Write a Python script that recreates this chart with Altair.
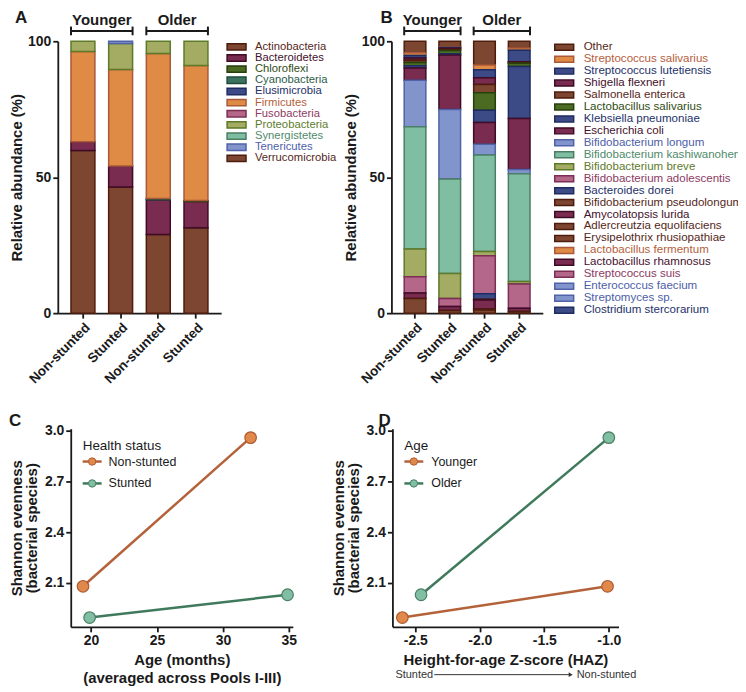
import altair as alt
import pandas as pd

FONT = "Liberation Sans"
INK = "#1a1a1a"

# colour families: (fill, edge, legend text)
TONES = {
    "brown":   ("#7d4630", "#4e1c0d", "#55271a"),
    "maroon":  ("#7a2b50", "#3f0b26", "#43102d"),
    "dkgreen": ("#4b6a22", "#27400c", "#2f4d14"),
    "dkteal":  ("#3b7260", "#1d4a3a", "#2b5c4a"),
    "navy":    ("#3c4b86", "#1f2c62", "#24316a"),
    "orange":  ("#df8a45", "#a95a3a", "#b4603c"),
    "pink":    ("#b46789", "#7b2e56", "#8c3a62"),
    "olive":   ("#a4ab62", "#5c7a28", "#5e7b2c"),
    "teal":    ("#80bea4", "#4b7e64", "#4f8a6b"),
    "blue":    ("#8294cc", "#5062a8", "#4d60a8"),
}

BAR_IDS = ["Younger|Non-stunted", "Younger|Stunted", "Older|Non-stunted", "Older|Stunted"]
AGE_GROUPS = ["Younger", "Older"]

# ---------------- Panel A : phyla (legend order, bottom of stack = first) -------------
PHYLA = ["Actinobacteria", "Bacteroidetes", "Chloroflexi", "Cyanobacteria", "Elusimicrobia",
         "Firmicutes", "Fusobacteria", "Proteobacteria", "Synergistetes", "Tenericutes",
         "Verrucomicrobia"]
PHYLA_TONES = ["brown", "maroon", "dkgreen", "dkteal", "navy", "orange", "pink", "olive",
               "teal", "blue", "brown"]
A_YOUNGER_NONSTUNTED = [59.8, 3.2, 0, 0, 0, 33.2, 0, 3.8, 0, 0, 0]
A_YOUNGER_STUNTED = [46.4, 7.7, 0, 0, 0, 35.5, 0, 9.6, 0, 0.8, 0]
A_OLDER_NONSTUNTED = [28.9, 12.8, 0, 0.5, 0, 53.3, 0, 4.5, 0, 0, 0]
A_OLDER_STUNTED = [31.4, 9.7, 0.3, 0, 0, 49.7, 0, 8.9, 0, 0, 0]

# ---------------- Panel B : species (legend order, top of stack = first) -------------
SPECIES = ["Other", "Streptococcus salivarius", "Streptococcus lutetiensis", "Shigella flexneri",
           "Salmonella enterica", "Lactobacillus salivarius", "Klebsiella pneumoniae",
           "Escherichia coli", "Bifidobacterium longum", "Bifidobacterium kashiwanohense",
           "Bifidobacterium breve", "Bifidobacterium adolescentis", "Bacteroides dorei",
           "Bifidobacterium pseudolongum", "Amycolatopsis lurida", "Adlercreutzia equolifaciens",
           "Erysipelothrix rhusiopathiae", "Lactobacillus fermentum", "Lactobacillus rhamnosus",
           "Streptococcus suis", "Enterococcus faecium", "Streptomyces sp.",
           "Clostridium stercorarium"]
SPECIES_TONES = ["brown", "orange", "navy", "maroon", "brown", "dkgreen", "navy", "maroon",
                 "blue", "teal", "olive", "pink", "navy", "brown", "maroon", "brown", "brown",
                 "orange", "maroon", "pink", "blue", "blue", "navy"]
B_YOUNGER_NONSTUNTED = [4.2, 1.0, 1.0, 0.8, 0.8, 1.2, 0.8, 4.5, 17.1, 45.0, 10.2, 6.0, 0, 0,
                        2.0, 0, 5.4, 0, 0, 0, 0, 0, 0]
B_YOUNGER_STUNTED = [2.1, 0.2, 0.3, 0.4, 0.4, 1.2, 0.5, 20.0, 25.6, 34.7, 9.2, 3.0, 0, 0,
                     1.4, 0, 1.0, 0, 0, 0, 0, 0, 0]
B_OLDER_NONSTUNTED = [8.7, 1.8, 2.9, 2.5, 3.0, 6.5, 4.5, 8.0, 3.9, 35.5, 1.6, 14.0, 2.0, 0.3,
                      3.3, 0.3, 1.2, 0, 0, 0, 0, 0, 0]
B_OLDER_STUNTED = [2.5, 0.8, 4.2, 0.3, 0.3, 1.2, 19.1, 18.8, 1.5, 39.7, 0.9, 8.9, 0, 0,
                   1.2, 0, 0.6, 0, 0, 0, 0, 0, 0]

# ---------------- Panels C / D : Shannon evenness -------------
STATUS = ["Non-stunted", "Stunted"]
AGE_NONSTUNTED = [19.4, 32.1]          # younger, older
AGE_STUNTED = [19.9, 34.9]
SHANNON_NONSTUNTED = [2.08, 2.96]       # younger, older
SHANNON_STUNTED = [1.895, 2.03]
HAZ_YOUNGER = [-2.6, -1.01]             # stunted, non-stunted
HAZ_OLDER = [-2.455, -1.0]

ORANGE = ("#b4623a", "#e0894a", "#ad5a32")   # line, point fill, point edge
GREEN = ("#3f7a5c", "#80bfa4", "#4b7e64")

Y_DOMAIN = [1.84, 3.013]

ONE = pd.DataFrame({"k": [0]})


def letter_mark(txt, x, y):
    return alt.Chart(ONE).mark_text(text=txt, align="left", baseline="middle", font=FONT,
                                    fontSize=17, fontWeight="bold", color=INK).encode(
        x=alt.value(x), y=alt.value(y))


def spacer():
    # tiny invisible first cell so that each row starts at its own left edge
    return alt.Chart(ONE).mark_rule(opacity=0, strokeWidth=0.5).encode(
        x=alt.value(0), x2=alt.value(1), y=alt.value(0)).properties(width=1, height=1)


def bar_panel(names, tones, series, width, height, pi, po, bottom_first, title_txt, lx):
    n = len(names)
    rows = []
    for bar, vals in zip(BAR_IDS, series):
        for i, (nm, tn, v) in enumerate(zip(names, tones, vals)):
            if v <= 0:
                continue
            rows.append(dict(bar=bar, taxon=nm, value=v,
                             stackpos=i if bottom_first else n - 1 - i,
                             fill=TONES[tn][0], edge=TONES[tn][1]))
    df = pd.DataFrame(rows)
    xscale = alt.Scale(domain=BAR_IDS, paddingInner=pi, paddingOuter=po)
    yscale = alt.Scale(domain=[0, 100], nice=False)
    xaxis = alt.Axis(title=None, labelAngle=-45, labelFontSize=13.5,
                     labelExpr="split(datum.label, '|')[1]")
    bars = alt.Chart(df).mark_bar(strokeWidth=1.5).encode(
        x=alt.X("bar:N", scale=xscale, sort=BAR_IDS, axis=xaxis),
        y=alt.Y("value:Q", stack="zero", scale=yscale,
                axis=alt.Axis(values=[0, 50, 100], title="Relative abundance (%)",
                              titlePadding=3)),
        color=alt.Color("fill:N", scale=None),
        stroke=alt.Stroke("edge:N", scale=None),
        order=alt.Order("stackpos:Q", sort="ascending"),
    )
    gdf = pd.DataFrame({"group": AGE_GROUPS,
                        "first": [BAR_IDS[0], BAR_IDS[2]],
                        "last": [BAR_IDS[1], BAR_IDS[3]]})
    gx = dict(scale=xscale, sort=BAR_IDS, axis=xaxis)
    hline = alt.Chart(gdf).mark_rule(strokeWidth=2, color=INK).encode(
        x=alt.X("first:N", bandPosition=0, **gx),
        x2=alt.X2("last:N", bandPosition=1),
        y=alt.datum(103.8))
    lend = alt.Chart(gdf).mark_rule(strokeWidth=2, color=INK).encode(
        x=alt.X("first:N", bandPosition=0, **gx), y=alt.datum(102.2), y2=alt.datum(105.4))
    rend = alt.Chart(gdf).mark_rule(strokeWidth=2, color=INK).encode(
        x=alt.X("last:N", bandPosition=1, **gx), y=alt.datum(102.2), y2=alt.datum(105.4))
    step = width / (len(BAR_IDS) - pi + 2 * po)
    half_gap = step * pi / 2
    lab = alt.Chart(gdf).mark_text(font=FONT, fontSize=15, fontWeight="bold", color=INK,
                                   baseline="middle", dx=half_gap).encode(
        x=alt.X("first:N", bandPosition=1, **gx), y=alt.datum(107.8), text="group:N")
    return alt.layer(bars, hline, lend, rend, lab, letter_mark(title_txt, lx, -23)).properties(
        width=width, height=height)


def legend_panel(names, tones, width, step, pi, xoff, text_x, fontsize):
    df = pd.DataFrame({"name": names,
                       "fill": [TONES[t][0] for t in tones],
                       "edge": [TONES[t][1] for t in tones],
                       "ink": [TONES[t][2] for t in tones]})
    y = alt.Y("name:N", sort=names, axis=None,
              scale=alt.Scale(domain=names, paddingInner=pi, paddingOuter=pi / 2))
    sw = alt.Chart(df).mark_rect(strokeWidth=1.5).encode(
        x=alt.value(xoff), x2=alt.value(xoff + 19), y=y,
        color=alt.Color("fill:N", scale=None), stroke=alt.Stroke("edge:N", scale=None))
    tx = alt.Chart(df).mark_text(align="left", baseline="middle", font=FONT,
                                 fontSize=fontsize, clip=True).encode(
        x=alt.value(text_x), y=y, text="name:N", color=alt.Color("ink:N", scale=None))
    return alt.layer(sw, tx).properties(width=width, height=len(names) * step)


def line_panel(df, xfield, xdomain, xticks, xtitle, names, tones, legend_title, text_x,
               width, height, title_txt, lx, arrow=False, gap_keeper=None):
    lab_expr = "(datum.value < 0 ? '-' : '') + format(abs(datum.value), '.1f')" \
        if xfield == "haz" else "format(datum.value, 'd')"
    xs = alt.X(f"{xfield}:Q", scale=alt.Scale(domain=xdomain, nice=False, zero=False),
               axis=alt.Axis(values=xticks, title=xtitle, labelExpr=lab_expr,
                             titleLineHeight=18, titlePadding=5))
    ys = alt.Y("shannon:Q", scale=alt.Scale(domain=Y_DOMAIN, nice=False, zero=False),
               axis=alt.Axis(values=[2.1, 2.4, 2.7, 3.0], format=".1f",
                             title=["Shannon evenness", "(bacterial species)"],
                             titleLineHeight=15, titlePadding=5))
    line = alt.Chart(df).mark_line(strokeWidth=2.5).encode(
        x=xs, y=ys, detail="series:N", color=alt.Color("line:N", scale=None))
    pts = alt.Chart(df).mark_circle(size=135, opacity=1, strokeWidth=1.2).encode(
        x=xs, y=ys, fill=alt.Fill("pt:N", scale=None), stroke=alt.Stroke("edge:N", scale=None))
    layers = [line, pts,
              alt.Chart(ONE).mark_text(text=legend_title, align="left", baseline="middle",
                                       font=FONT, fontSize=13.5, color=INK).encode(
                  x=alt.value(12), y=alt.value(17)),
              letter_mark(title_txt, lx, -8)]
    for i, (nm, tn) in enumerate(zip(names, tones)):
        yy = 33 + 22 * i
        layers += [
            alt.Chart(ONE).mark_rule(strokeWidth=2.5, color=tn[0]).encode(
                x=alt.value(12), x2=alt.value(31), y=alt.value(yy)),
            alt.Chart(ONE).mark_point(filled=True, size=55, opacity=1, fill=tn[1],
                                      stroke=tn[2], strokeWidth=1).encode(
                x=alt.value(21.5), y=alt.value(yy)),
            alt.Chart(ONE).mark_text(text=nm, align="left", baseline="middle", font=FONT,
                                     fontSize=12.5, color=INK).encode(
                x=alt.value(text_x), y=alt.value(yy)),
        ]
    if arrow:
        ay = height + 48
        layers += [
            alt.Chart(ONE).mark_text(text="Stunted", align="left", baseline="middle",
                                     font=FONT, fontSize=11, color="#333333").encode(
                x=alt.value(3), y=alt.value(ay)),
            alt.Chart(ONE).mark_rule(strokeWidth=1, color="#333333").encode(
                x=alt.value(42), x2=alt.value(179), y=alt.value(ay)),
            alt.Chart(ONE).mark_point(shape="triangle-right", filled=True, size=22,
                                      color="#333333", opacity=1).encode(
                x=alt.value(179), y=alt.value(ay)),
            alt.Chart(ONE).mark_text(text="Non-stunted", align="left", baseline="middle",
                                     font=FONT, fontSize=11, color="#333333").encode(
                x=alt.value(185), y=alt.value(ay)),
        ]
    if gap_keeper is not None:
        layers.append(alt.Chart(ONE).mark_rule(opacity=0, strokeWidth=0.5).encode(
            x=alt.value(gap_keeper), x2=alt.value(gap_keeper + 1), y=alt.value(height / 2)))
    return alt.layer(*layers).properties(width=width, height=height)


# ---- build panels ----
panel_a = bar_panel(PHYLA, PHYLA_TONES,
                    [A_YOUNGER_NONSTUNTED, A_YOUNGER_STUNTED, A_OLDER_NONSTUNTED, A_OLDER_STUNTED],
                    164, 273, 0.365, 0.35, True, "A", -43)
legend_a = legend_panel(PHYLA, PHYLA_TONES, 122, 11.2, 0.43, 6, 34, 11.3)
panel_b = bar_panel(SPECIES, SPECIES_TONES,
                    [B_YOUNGER_NONSTUNTED, B_YOUNGER_STUNTED, B_OLDER_NONSTUNTED, B_OLDER_STUNTED],
                    152, 273, 0.377, 0.368, False, "B", -11)
legend_b = legend_panel(SPECIES, SPECIES_TONES, 196, 12.0, 0.5, 12, 41, 11.6)

c_df = pd.DataFrame({
    "series": [STATUS[0]] * 2 + [STATUS[1]] * 2,
    "age": AGE_NONSTUNTED + AGE_STUNTED,
    "shannon": SHANNON_NONSTUNTED + SHANNON_STUNTED,
    "line": [ORANGE[0]] * 2 + [GREEN[0]] * 2,
    "pt": [ORANGE[1]] * 2 + [GREEN[1]] * 2,
    "edge": [ORANGE[2]] * 2 + [GREEN[2]] * 2,
})
d_df = pd.DataFrame({
    "series": [AGE_GROUPS[0]] * 2 + [AGE_GROUPS[1]] * 2,
    "haz": HAZ_YOUNGER + HAZ_OLDER,
    "shannon": [SHANNON_STUNTED[0], SHANNON_NONSTUNTED[0], SHANNON_STUNTED[1], SHANNON_NONSTUNTED[1]],
    "line": [ORANGE[0]] * 2 + [GREEN[0]] * 2,
    "pt": [ORANGE[1]] * 2 + [GREEN[1]] * 2,
    "edge": [ORANGE[2]] * 2 + [GREEN[2]] * 2,
})

panel_c = line_panel(c_df, "age", [18.47, 35.3], [20, 25, 30, 35],
                     ["Age (months)", "(averaged across Pools I-III)"],
                     STATUS, [ORANGE, GREEN], "Health status", 38, 223, 199, "C", -62)
panel_d = line_panel(d_df, "haz", [-2.677, -0.925], [-2.5, -2.0, -1.5, -1.0],
                     "Height-for-age Z-score (HAZ)",
                     AGE_GROUPS, [ORANGE, GREEN], "Age", 39, 227, 199, "D", -14, arrow=True,
                     gap_keeper=-96)

top = alt.hconcat(spacer(), panel_a, legend_a, panel_b, legend_b, spacing=0)
bottom = alt.hconcat(spacer(), panel_c, panel_d, spacing=0)

chart = alt.concat(top, bottom, columns=1, align="none", spacing=26).properties(
    padding=0, background="white"
).configure_view(stroke=None).configure_axis(
    grid=False, domainColor=INK, domainWidth=1.8, tickColor=INK, tickWidth=1.8, tickSize=5,
    labelFont=FONT, labelFontWeight="bold", labelFontSize=14, labelColor=INK, labelPadding=2,
    titleFont=FONT, titleFontWeight="bold", titleFontSize=15, titleColor=INK,
)

chart.save("out.html", embed_options={"renderer": "svg", "actions": False})
